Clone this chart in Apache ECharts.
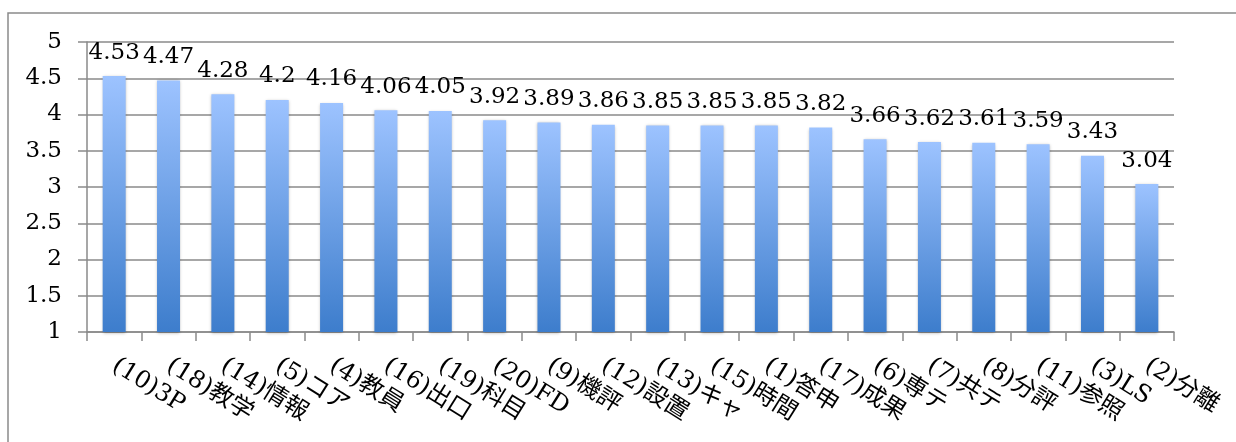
<!DOCTYPE html>
<html><head><meta charset="utf-8">
<script src="https://cdn.jsdelivr.net/npm/echarts@6/dist/echarts.min.js"></script>
<style>html,body{margin:0;padding:0;background:#fff}#c{width:1236px;height:442px}</style>
</head><body><div id="c"></div>
<script>
var categories = ['(10)3P','(18)教学','(14)情報','(5)コア','(4)教員','(16)出口','(19)科目','(20)FD','(9)機評','(12)設置','(13)キャ','(15)時間','(1)答申','(17)成果','(6)専テ','(7)共テ','(8)分評','(11)参照','(3)LS','(2)分離'];
var values = [4.53,4.47,4.28,4.2,4.16,4.06,4.05,3.92,3.89,3.86,3.85,3.85,3.85,3.82,3.66,3.62,3.61,3.59,3.43,3.04];
var yTicks = [1,1.5,2,2.5,3,3.5,4,4.5,5];

var FONT = '"DejaVu Serif","Noto Sans CJK JP",serif';
var chart = echarts.init(document.getElementById('c'));
chart.setOption({
  animation: false,
  grid: {left: 87, right: 62, top: 42, bottom: 110},
  graphic: [{type:'rect', shape:{x:8,y:13,width:1400,height:600}, style:{fill:'none', stroke:'#8a8a8a', lineWidth:1.5}, silent:true}],
  xAxis: {
    type: 'category', data: categories,
    axisLine: {show: true, lineStyle: {color: '#8a8a8a', width: 1.5}},
    axisTick: {show: true, length: 9, lineStyle: {color: '#8a8a8a', width: 1.5}},
    axisLabel: {rotate: -32, margin: 32, interval: 0, color: '#000', fontFamily: FONT, fontSize: 24}
  },
  yAxis: {
    type: 'value', min: yTicks[0], max: yTicks[yTicks.length-1], interval: 0.5,
    axisLine: {show: true, lineStyle: {color: '#8a8a8a', width: 1.5}},
    axisTick: {show: true, length: 9, lineStyle: {color: '#8a8a8a', width: 1.5}},
    splitLine: {show: true, lineStyle: {color: '#8a8a8a', width: 1.5}},
    axisLabel: {margin: 25, color: '#000', fontFamily: FONT, fontSize: 23}
  },
  series: [{
    type: 'bar', data: values, barWidth: 23,
    itemStyle: {
      color: new echarts.graphic.LinearGradient(0,0,0,1,[{offset:0,color:'#9dc3ff'},{offset:1,color:'#3d7dcc'}]),
      shadowBlur: 3, shadowColor: 'rgba(0,0,0,0.3)', shadowOffsetX: 0, shadowOffsetY: 1
    },
    label: {show: true, position: 'top', distance: 12, color: '#000', fontFamily: FONT, fontSize: 23}
  }]
});
</script></body></html>
